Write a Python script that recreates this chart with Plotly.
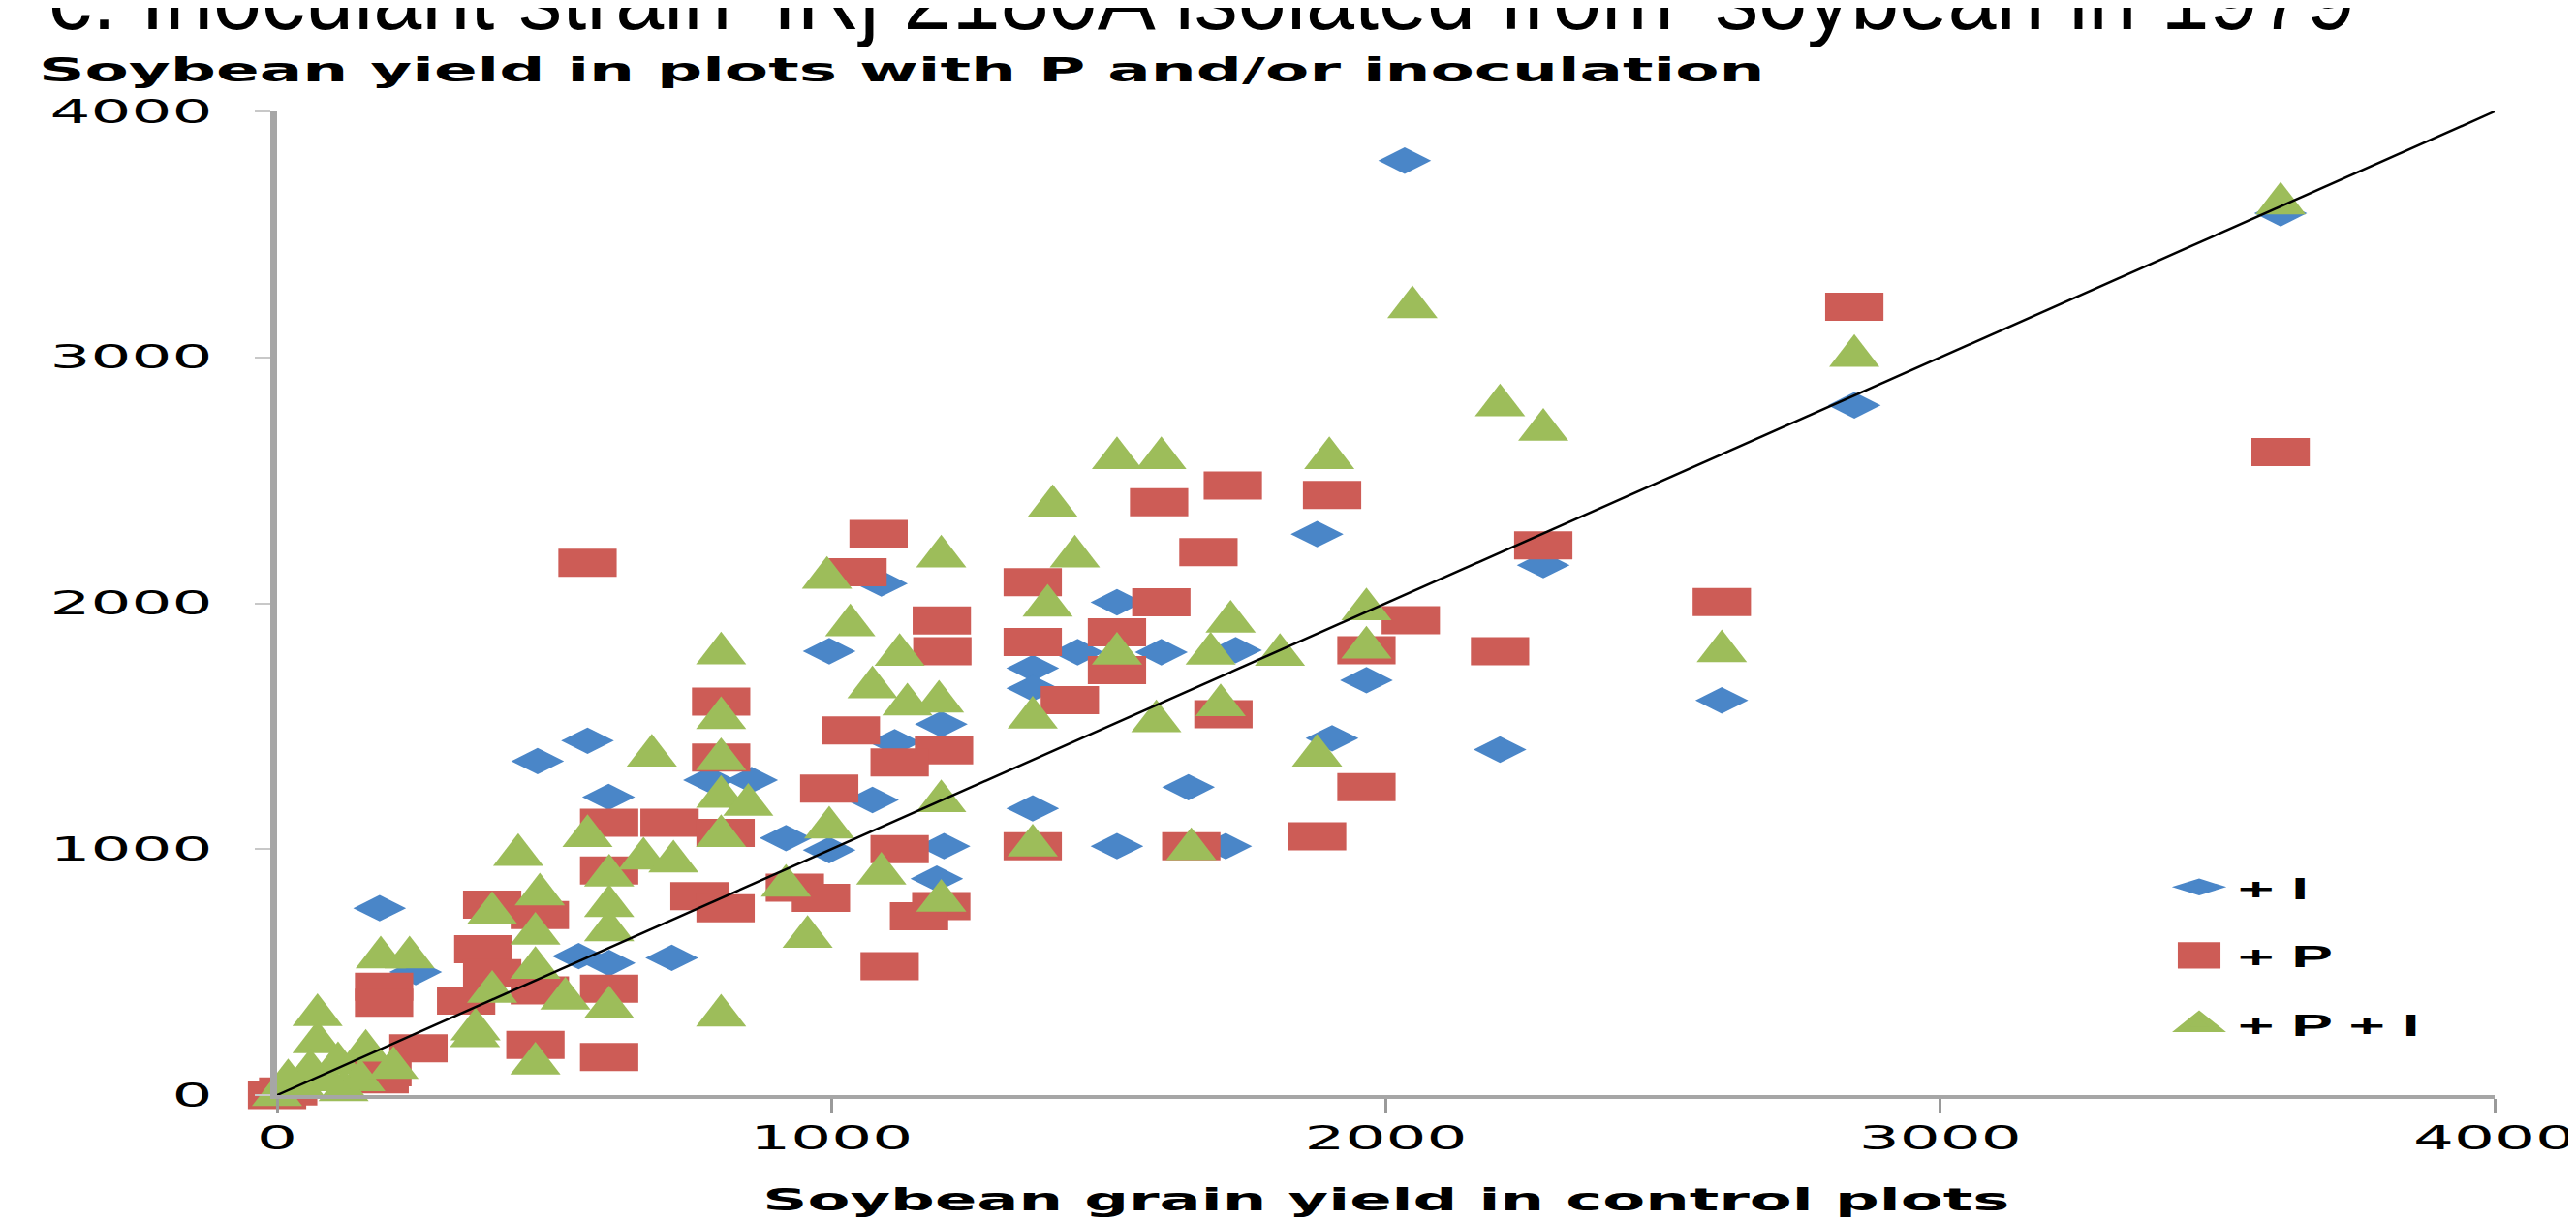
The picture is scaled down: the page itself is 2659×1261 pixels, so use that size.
import plotly.graph_objects as go

# ---------------- text ----------------
title_text = "c. Inoculant strain 'IRj 2180A isolated from 'soybean in 1979"
y_title = "Soybean yield in plots with P and/or inoculation"
x_title = "Soybean grain yield in control plots"
tick_vals = [0, 1000, 2000, 3000, 4000]
tick_text = ["0", "1000", "2000", "3000", "4000"]
series_names = ["+ I", "+ P", "+ P + I"]

# ---------------- data (kg/ha) ----------------
# + I (inoculation only)
inoc_x = [2034, 3614, 2845, 2284, 2606, 2206, 1876, 1515, 1444, 1595, 1729, 1363, 1363,
          1965, 1090, 996, 1198, 1114, 1903, 1644, 1363, 1203, 1515, 1711, 1190, 560,
          470, 598, 780, 856, 1074, 918, 996, 185, 712, 599, 544, 250, 30]
inoc_y = [3800, 3586, 2805, 2155, 1605, 1405, 2281, 2004, 1801, 1801, 1809, 1736, 1654,
          1687, 2080, 1805, 1508, 1435, 1451, 1252, 1166, 1012, 1012, 1012, 880, 1441,
          1358, 1212, 1281, 1281, 1200, 1045, 996, 760, 558, 537, 565, 500, 30]

# + P (phosphorus only)
p_x = [2845, 3614, 2284, 2606, 2206, 1724, 1591, 1903, 1680, 1085, 1363, 1595, 1199,
       1200, 1363, 1515, 1515, 1430, 2045, 1965, 1707, 1203, 1123, 1965, 1876, 1363,
       1649, 1123, 1198, 1158, 1105, 560, 1047, 801, 801, 1035, 996, 599, 708, 809,
       762, 809, 599, 388, 474, 372, 388, 474, 599, 341, 193, 193, 255, 466, 599,
       934, 981, 0, 185, 190, 20]
p_y = [3206, 2615, 2235, 2005, 1805, 2479, 2411, 2440, 2208, 2282, 2086, 2004, 1930,
       1805, 1842, 1882, 1728, 1606, 1931, 1809, 1549, 1402, 1353, 1252, 1052, 1012,
       1012, 1000, 768, 727, 524, 2165, 2126, 1600, 1372, 1483, 1246, 1107, 1107, 1066,
       809, 760, 913, 774, 732, 593, 496, 426, 433, 384, 440, 375, 190, 204, 155,
       843, 802, 0, 64, 93, 15]

# + P + I
pi_x = [3614, 2845, 2206, 2284, 2606, 2048, 1515, 1595, 1898, 1399, 1198, 1439, 1720,
        1390, 1515, 1684, 1809, 1965, 1965, 1123, 1194, 1363, 1586, 1702, 1876, 1198,
        1363, 1649, 1198, 1090, 992, 1034, 801, 801, 801, 1074, 1137, 676, 801, 850,
        560, 435, 661, 715, 801, 599, 474, 388, 599, 466, 599, 388, 466, 520, 599,
        357, 466, 801, 918, 957, 996, 187, 239, 73, 73, 358, 110, 150, 40, 0, 160,
        210, 60, 120, 20, 90]
pi_y = [3626, 3006, 2805, 2705, 1805, 3204, 2590, 2590, 2590, 2395, 2190, 2190, 1925,
        1990, 1795, 1795, 1790, 1975, 1820, 1790, 1600, 1535, 1520, 1585, 1380, 1195,
        1015, 1000, 790, 900, 2103, 1910, 1796, 1533, 1366, 1658, 1588, 1380, 1213, 1180,
        1053, 976, 962, 950, 1053, 893, 816, 740, 768, 656, 670, 420, 517, 392, 357,
        239, 128, 323, 851, 643, 1088, 560, 560, 325, 215, 267, 130, 60, 40, 0, 180,
        110, 100, 20, 60, 60]

# 1:1 reference line
line_x = [0, 4000]
line_y = [0, 4000]

# ---------------- style ----------------
BLUE = "#4A86C8"
RED = "#CD5C56"
GREEN = "#9DBD5A"

W, H = 2659, 1261
L, R, T, B = 278, 92, 107, 139
PW, PH = W - L - R, H - T - B

fig = go.Figure()
fig.add_trace(go.Scatter(x=inoc_x, y=inoc_y, mode="markers", name=series_names[0],
                         legendgroup="g1", showlegend=False, cliponaxis=False,
                         marker=dict(symbol="diamond-wide", size=39, color=BLUE,
                                     line=dict(width=0))))
fig.add_trace(go.Scatter(x=p_x, y=p_y, mode="markers", name=series_names[1],
                         legendgroup="g2", showlegend=False, cliponaxis=False,
                         marker=dict(symbol="line-ew", size=43, color=RED,
                                     line=dict(color=RED, width=29))))
fig.add_trace(go.Scatter(x=pi_x, y=pi_y, mode="markers", name=series_names[2],
                         legendgroup="g3", showlegend=False, cliponaxis=False,
                         marker=dict(symbol="triangle-up", size=45, color=GREEN,
                                     line=dict(width=0))))
fig.add_trace(go.Scatter(x=line_x, y=line_y, mode="lines", showlegend=False,
                         cliponaxis=False, line=dict(color="black", width=2.5)))

# legend entries (same symbols, legend-sized)
for grp, nm, sym, col, lw in zip(["g1", "g2", "g3"], series_names,
                                 ["diamond-wide", "square", "triangle-up"],
                                 [BLUE, RED, GREEN], [2, 5, 4]):
    fig.add_trace(go.Scatter(x=[None], y=[None], mode="markers", name=nm,
                             legendgroup=grp,
                             marker=dict(symbol=sym, size=16, color=col,
                                         line=dict(width=lw, color=col))))

fig.update_xaxes(range=[0, 4000], tickvals=tick_vals, ticktext=tick_text,
                 showgrid=False, zeroline=False, showline=True,
                 linecolor="#A6A6A6", linewidth=3.5, ticks="outside", ticklen=15,
                 tickwidth=2.5, tickcolor="#9A9A9A", fixedrange=True,
                 tickfont=dict(family="DejaVu Sans", size=33, color="black"),
                 ticklabelstandoff=-2)
fig.update_yaxes(range=[0, 4000], tickvals=tick_vals, ticktext=tick_text,
                 showgrid=False, zeroline=False, showline=True,
                 linecolor="#A6A6A6", linewidth=7, ticks="outside", ticklen=16,
                 tickwidth=2, tickcolor="#C8C8C8", fixedrange=True,
                 tickfont=dict(family="DejaVu Sans", size=33, color="black"),
                 ticklabelstandoff=37)


def px_to_paper_y(py):
    return (H - B - py) / PH


def px_to_paper_x(px):
    return (px - L) / PW


fig.update_layout(
    width=W, height=H,
    margin=dict(l=L, r=R, t=T, b=B, autoexpand=False),
    paper_bgcolor="white", plot_bgcolor="white",
    showlegend=True,
    legend=dict(x=px_to_paper_x(2222), xanchor="left",
                y=px_to_paper_y(880), yanchor="top",
                bgcolor="rgba(0,0,0,0)", tracegroupgap=26, itemwidth=70,
                font=dict(family="Liberation Sans", size=32, color="black",
                          weight="bold")),
    annotations=[
        dict(text=title_text, xref="paper", yref="paper",
             x=px_to_paper_x(40), xanchor="left", align="left",
             y=px_to_paper_y(-9), yanchor="middle", showarrow=False,
             font=dict(family="Liberation Sans", size=90, color="black")),
        dict(text=y_title, xref="paper", yref="paper",
             x=px_to_paper_x(30), xanchor="left", align="left",
             y=px_to_paper_y(65), yanchor="middle", showarrow=False,
             font=dict(family="DejaVu Sans", size=33, color="black",
                       weight="bold")),
        dict(text=x_title, xref="paper", yref="paper",
             x=0.5, xanchor="center", align="center",
             y=px_to_paper_y(1230), yanchor="middle", showarrow=False,
             font=dict(family="DejaVu Sans", size=32, color="black",
                       weight="bold")),
    ],
)

# the source chart is a 2x horizontally stretched picture: stretch its texts the same way
post = """
var st = document.createElement('style');
st.innerHTML =
  'g.xtick {transform: scaleX(2); transform-box: fill-box; transform-origin: 50% 50%;} '
 + 'g.ytick {transform: scaleX(2); transform-box: fill-box; transform-origin: 100% 50%;} '
 + '.legendtext {transform: scaleX(2); transform-box: fill-box; transform-origin: 0% 50%;} '
 + 'g.legendpoints {transform: scale(2.1, 1.3); transform-box: fill-box; transform-origin: 50% 50%;} '
 + 'g.annotation[data-index="1"] .annotation-text {transform: scaleX(2); transform-box: fill-box; transform-origin: 0% 50%;} '
 + 'g.annotation[data-index="2"] .annotation-text {transform: scaleX(2); transform-box: fill-box; transform-origin: 50% 50%;}';
document.head.appendChild(st);
var gd = document.getElementById('{plot_id}');
Plotly.relayout(gd, {'legend.font.size': 32.01});
"""

fig.write_html("out.html", post_script=post)
